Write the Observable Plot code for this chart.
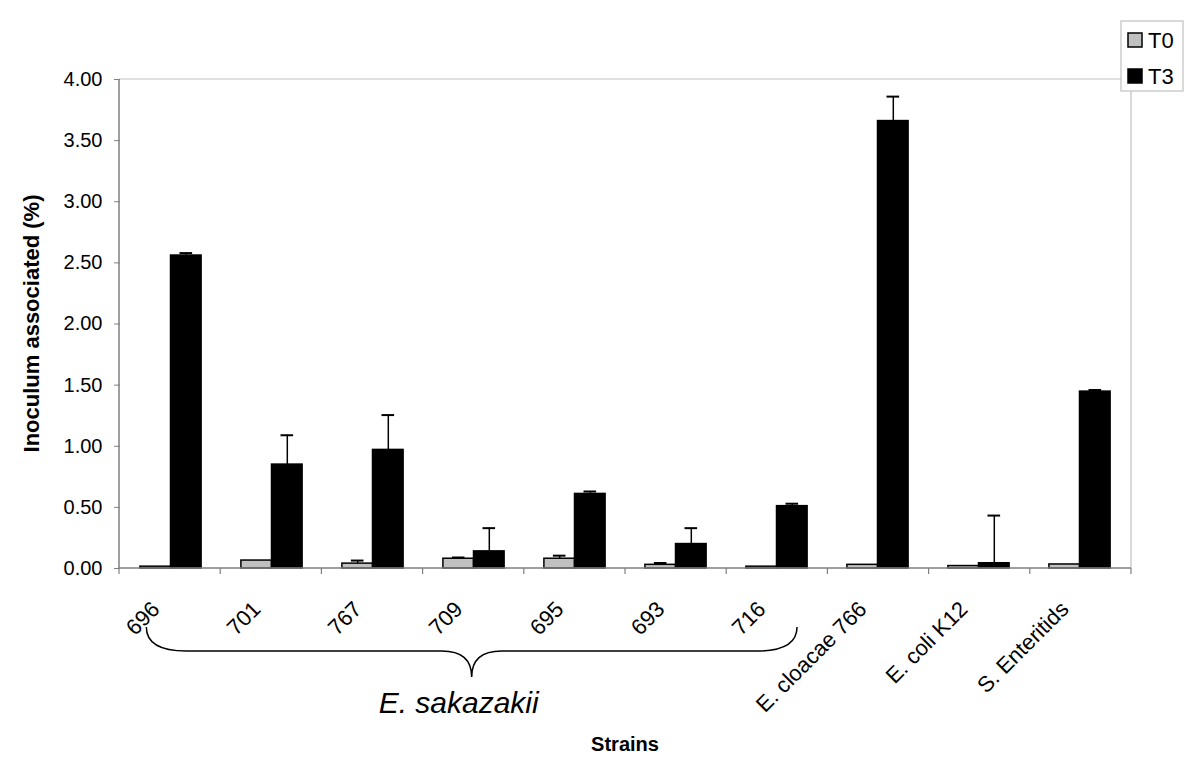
<!DOCTYPE html>
<html><head><meta charset="utf-8">
<script src="https://cdn.jsdelivr.net/npm/d3@7"></script>
<script src="https://cdn.jsdelivr.net/npm/@observablehq/plot@0.6"></script>
<style>
html,body{margin:0;padding:0;background:#fff;}
</style></head><body><div id="chart"></div>
<script>
// ---- data ----
const categories = ["696","701","767","709","695","693","716","E. cloacae 766","E. coli K12","S. Enteritids"];
const series = ["T0","T3"];
const t0    = [0.015, 0.065, 0.04, 0.08, 0.08, 0.03, 0.015, 0.03, 0.02, 0.033];
const t0Err = [0,     0,     0.025, 0.01, 0.025, 0.015, 0,   0,    0,    0];
const t3    = [2.56, 0.85, 0.97, 0.14, 0.61, 0.20, 0.51, 3.66, 0.043, 1.447];
const t3Err = [0.02, 0.24, 0.285, 0.19, 0.02, 0.13, 0.02, 0.20, 0.39, 0.013];
const yTicks = [0, 0.5, 1, 1.5, 2, 2.5, 3, 3.5, 4];
const yLabel = "Inoculum associated (%)";
const xLabel = "Strains";
const groupLabel = "E. sakazakii";
const groupFirst = "696", groupLast = "716";
const seriesFill = ["#c0c0c0", "#000000"];

const rows = categories.flatMap((c, i) => [
  {strain: c, series: "T0", value: t0[i], err: t0Err[i]},
  {strain: c, series: "T3", value: t3[i], err: t3Err[i]}
]);
const errRows = rows.filter(d => d.err > 0);

const W = 1200, H = 765, mL = 119, mR = 69, mT = 79, mB = 197;
const font = "Arial, 'Liberation Sans', sans-serif";
const fmt = d3.format(".2f");

const yAxisMarks = Plot.axisY
  ? [Plot.axisY({ticks: yTicks, tickFormat: fmt, tickSize: 6, tickPadding: 12, fontSize: 20,
      stroke: "#808080", fill: "#000", label: null})]
  : [];

const chart = Plot.plot({
  width: W, height: H,
  marginLeft: mL, marginRight: mR, marginTop: mT, marginBottom: mB,
  style: {fontFamily: font, fontSize: "20px", color: "#000", background: "#fff", overflow: "visible"},
  fx: {domain: categories, padding: 0, axis: null, label: null},
  x: {domain: series, paddingInner: 0, paddingOuter: 0.65, axis: null, round: false},
  y: {domain: [0, 4], ticks: yTicks, tickFormat: fmt, label: null, tickSize: 6, tickPadding: 12},
  color: {domain: series, range: seriesFill},
  marks: [
    ...yAxisMarks,
    Plot.ruleX(errRows, {fx: "strain", x: "series", y1: "value", y2: d => d.value + d.err, stroke: "#000", strokeWidth: 1.5}),
    Plot.tickY(errRows, {fx: "strain", x: "series", y: d => d.value + d.err, stroke: "#000", strokeWidth: 2, insetLeft: 9, insetRight: 9}),
    Plot.barY(rows, {fx: "strain", x: "series", y: "value", fill: "series", stroke: "#000", strokeWidth: 1.5}),
    // rotated category labels under each group
    Plot.text(categories, {fx: d => d, text: d => d, frameAnchor: "bottom", dy: 42, dx: -10, rotate: -45,
      textAnchor: "end", lineAnchor: "bottom", fontSize: 22, fill: "#000"})
  ]
});
document.getElementById("chart").appendChild(chart);

const svg = d3.select(chart);
const fx = chart.scale("fx");
const y = chart.scale("y");
const step = (fx.range[1] - fx.range[0]) / categories.length;
const fxPos = c => fx.range[0] + categories.indexOf(c) * step;
const yPos = v => y.range[0] + (v - y.domain[0]) / (y.domain[1] - y.domain[0]) * (y.range[1] - y.range[0]);
const x0 = fx.range[0], x1 = fx.range[1], yb = yPos(0), yt = yPos(4);

const g = svg.append("g");
// frame
g.append("path").attr("d", `M${x0},${yt}H${x1}V${yb}`).attr("fill", "none").attr("stroke", "#c0c0c0").attr("stroke-width", 1.2);
g.append("path").attr("d", `M${x0},${yt}V${yb}H${x1}`).attr("fill", "none").attr("stroke", "#808080").attr("stroke-width", 1.5);
// group boundary ticks
g.selectAll("line.b").data(d3.range(categories.length + 1)).join("line")
  .attr("x1", i => x0 + i * step).attr("x2", i => x0 + i * step)
  .attr("y1", yb).attr("y2", yb + 6).attr("stroke", "#808080").attr("stroke-width", 1.2);

// brace
const bl = fxPos(groupFirst) + step * 0.27, br = fxPos(groupLast) + step * 0.7;
const bm = (bl + br) / 2, by0 = 627, byh = 651, byt = 677, r = 40, rc = 30;
g.append("path")
  .attr("d", `M${bl},${by0}Q${bl},${byh} ${bl + r},${byh}L${bm - rc},${byh}Q${bm},${byh} ${bm},${byt}Q${bm},${byh} ${bm + rc},${byh}L${br - r},${byh}Q${br},${byh} ${br},${by0}`)
  .attr("fill", "none").attr("stroke", "#000").attr("stroke-width", 1.5);
g.append("text").attr("x", bm - 13).attr("y", 713).attr("text-anchor", "middle")
  .attr("font-style", "italic").attr("font-size", 30).attr("font-family", font).text(groupLabel);

// axis titles
g.append("text").attr("x", (x0 + x1) / 2).attr("y", 751).attr("text-anchor", "middle")
  .attr("font-weight", "bold").attr("font-size", 20).attr("font-family", font).text(xLabel);
g.append("text").attr("transform", `translate(39,${(yt + yb) / 2}) rotate(-90)`).attr("text-anchor", "middle")
  .attr("font-weight", "bold").attr("font-size", 22).attr("font-family", font).text(yLabel);

// legend
const lg = svg.append("g");
lg.append("rect").attr("x", 1121).attr("y", 21).attr("width", 62).attr("height", 70)
  .attr("fill", "#fff").attr("stroke", "#c0c0c0").attr("stroke-width", 1.2);
series.forEach((s, i) => {
  const cy = 40 + i * 36;
  lg.append("rect").attr("x", 1128).attr("y", cy - 7).attr("width", 14).attr("height", 14)
    .attr("fill", seriesFill[i]).attr("stroke", "#000").attr("stroke-width", 1.5);
  lg.append("text").attr("x", 1148).attr("y", cy + 8).attr("text-anchor", "start")
    .attr("font-size", 22).attr("font-family", font).text(s);
});
</script></body></html>
